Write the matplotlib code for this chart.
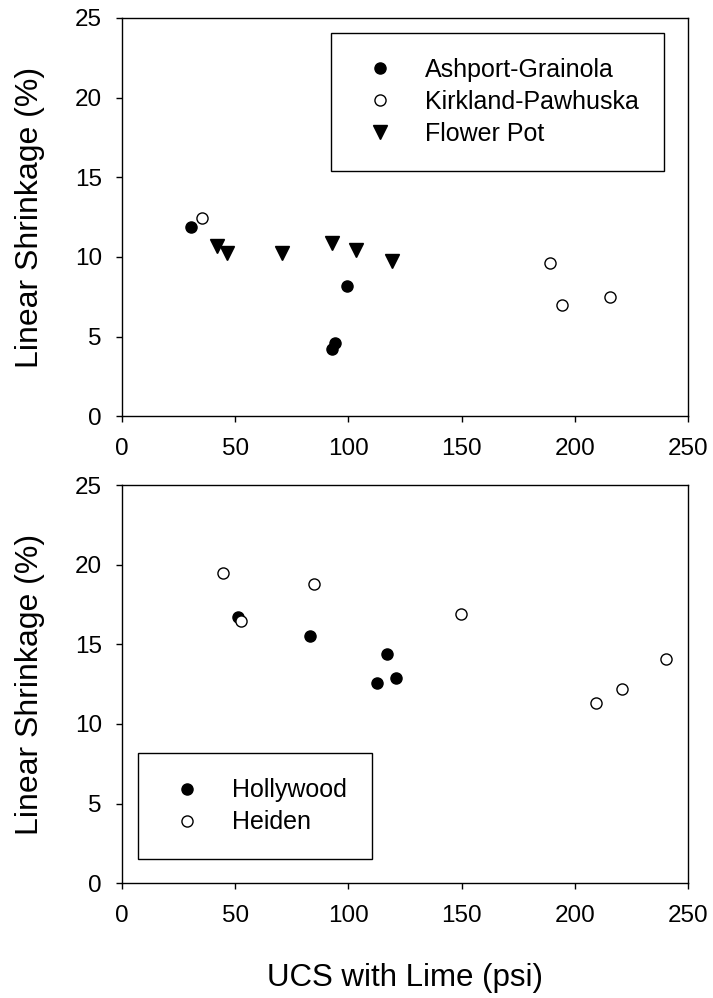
import matplotlib
matplotlib.use("Agg")
import matplotlib.pyplot as plt

plt.rcParams['font.family'] = ['Liberation Sans', 'DejaVu Sans']

# top panel
ashport_x = [30.6, 99.3, 92.7, 94.3]
ashport_y = [11.88, 8.17, 4.21, 4.57]
kirkland_x = [35.3, 188.9, 194.5, 215.4]
kirkland_y = [12.47, 9.62, 7.00, 7.46]
flowerpot_x = [42.0, 46.2, 70.9, 92.9, 103.3, 119.2]
flowerpot_y = [10.69, 10.27, 10.27, 10.90, 10.44, 9.74]

# bottom panel
hollywood_x = [51.3, 83.0, 117.2, 112.7, 121.2]
hollywood_y = [16.72, 15.54, 14.39, 12.59, 12.89]
heiden_x = [44.6, 52.4, 84.9, 149.7, 209.4, 221.0, 240.3]
heiden_y = [19.50, 16.46, 18.79, 16.90, 11.34, 12.18, 14.10]

x_ticks = [0, 50, 100, 150, 200, 250]
y_ticks = [0, 5, 10, 15, 20, 25]

FS = 17.5
LEGEND_KW = dict(fontsize=18, frameon=True, fancybox=False, framealpha=1,
                 edgecolor="black", borderpad=1.0, handlelength=1.92,
                 handletextpad=0.84, labelspacing=0.32, borderaxespad=0)


def style_axes(ax):
    ax.set_xlim(0, 250)
    ax.set_ylim(0, 25)
    ax.set_xticks(x_ticks)
    ax.set_yticks(y_ticks)
    ax.tick_params(direction="out", length=4.5, width=1, labelsize=FS, pad=10,
                   top=False, right=False)
    ax.tick_params(axis="x", pad=11)
    for s in ax.spines.values():
        s.set_linewidth(1)
    ax.set_ylabel("Linear Shrinkage (%)", fontsize=23)
    ax.yaxis.set_label_coords(-0.135, 0.5)


fig = plt.figure(figsize=(7.13, 9.98), dpi=100)
ax1 = fig.add_axes([0.171, 0.583, 0.794, 0.399])
ax2 = fig.add_axes([0.171, 0.115, 0.794, 0.399])

ax1.plot(ashport_x, ashport_y, "o", ms=8, color="black", label="Ashport-Grainola")
ax1.plot(kirkland_x, kirkland_y, "o", ms=8, mfc="white", mec="black", mew=1,
         label="Kirkland-Pawhuska")
ax1.plot(flowerpot_x, flowerpot_y, "v", ms=10, color="black", label="Flower Pot")
style_axes(ax1)
ax1.legend(loc="upper right", bbox_to_anchor=(0.958, 0.962), **LEGEND_KW)

ax2.plot(hollywood_x, hollywood_y, "o", ms=8, color="black", label="Hollywood")
ax2.plot(heiden_x, heiden_y, "o", ms=8, mfc="white", mec="black", mew=1,
         label="Heiden")
style_axes(ax2)
ax2.legend(loc="lower left", bbox_to_anchor=(0.028, 0.060), **LEGEND_KW)
ax2.set_xlabel("UCS with Lime (psi)", fontsize=22.5, labelpad=26)

for ax in (ax1, ax2):
    ax.get_legend().get_frame().set_linewidth(1)

fig.savefig("out.png", dpi=100)
